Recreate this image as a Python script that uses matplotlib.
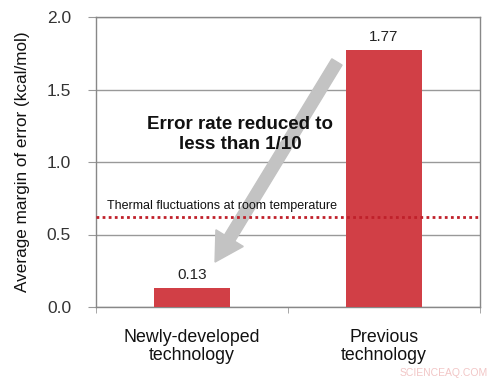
import matplotlib
matplotlib.use("Agg")
import matplotlib.pyplot as plt
from matplotlib.patches import FancyArrow

categories = ["Newly-developed\ntechnology", "Previous\ntechnology"]
values = [0.13, 1.77]
value_labels = ["0.13", "1.77"]
thermal_level = 0.62
yticks = [0.0, 0.5, 1.0, 1.5, 2.0]

plt.rcParams['font.family'] = ['Liberation Sans', 'DejaVu Sans']

fig = plt.figure(figsize=(5.0, 3.81), dpi=100)
ax = fig.add_axes([96/500, 1-307/381, 384/500, 290/381])

x = list(range(len(categories)))
ax.bar(x, values, width=0.4, color='#d13f46', zorder=3)
for xi, v, lab in zip(x, values, value_labels):
    ax.text(xi, v + 0.045, lab, ha='center', va='bottom', fontsize=11, color='#222222')

ax.set_xlim(-0.5, 1.5)
ax.set_ylim(0, 2.0)
ax.set_yticks(yticks)
ax.set_yticklabels([f"{t:.1f}" for t in yticks], fontsize=12.5, color='#333333')
ax.set_xticks(x)
ax.set_xticklabels(categories, fontsize=12.8, color='#111111', linespacing=1.05)
ax.set_xticks([-0.5, 0.5, 1.5], minor=True)
ax.tick_params(axis='x', which='major', length=0, pad=16)
ax.tick_params(axis='x', which='minor', length=4, color='#999999')
ax.tick_params(axis='y', length=6, color='#999999', pad=12)
ax.yaxis.grid(True, color='#999999', linewidth=1.0, zorder=0)
for s in ax.spines.values():
    s.set_color('#888888')
    s.set_linewidth(1.0)

ax.set_ylabel("Average margin of error (kcal/mol)", fontsize=12.3, color='#111111', labelpad=12)

ax.axhline(thermal_level, color='#c0202a', linestyle=(0, (1, 1.2)), linewidth=2.0, zorder=4)
ax.text(-0.445, thermal_level + 0.035, "Thermal fluctuations at room temperature",
        fontsize=9, color='#111111', va='bottom', ha='left', zorder=5)

# gray arrow, drawn in display pixels from data endpoints
fig.canvas.draw()
tail = ax.transData.transform((0.755, 1.69))
tip = ax.transData.transform((0.12, 0.31))
arr = FancyArrow(tail[0], tail[1], tip[0] - tail[0], tip[1] - tail[1], width=12,
                 head_width=32, head_length=28, length_includes_head=True,
                 color='#c3c3c3', zorder=2, transform=None)
ax.add_patch(arr)

ax.text(0.25, 1.19, "Error rate reduced to\nless than 1/10", fontsize=13.5,
        fontweight='bold', ha='center', va='center', color='#111111',
        linespacing=1.2, zorder=5)

fig.text(0.975, 0.008, "SCIENCEAQ.COM", fontsize=7.5, color='#f2c6c6', ha='right', va='bottom')

fig.savefig("out.png", dpi=100)
